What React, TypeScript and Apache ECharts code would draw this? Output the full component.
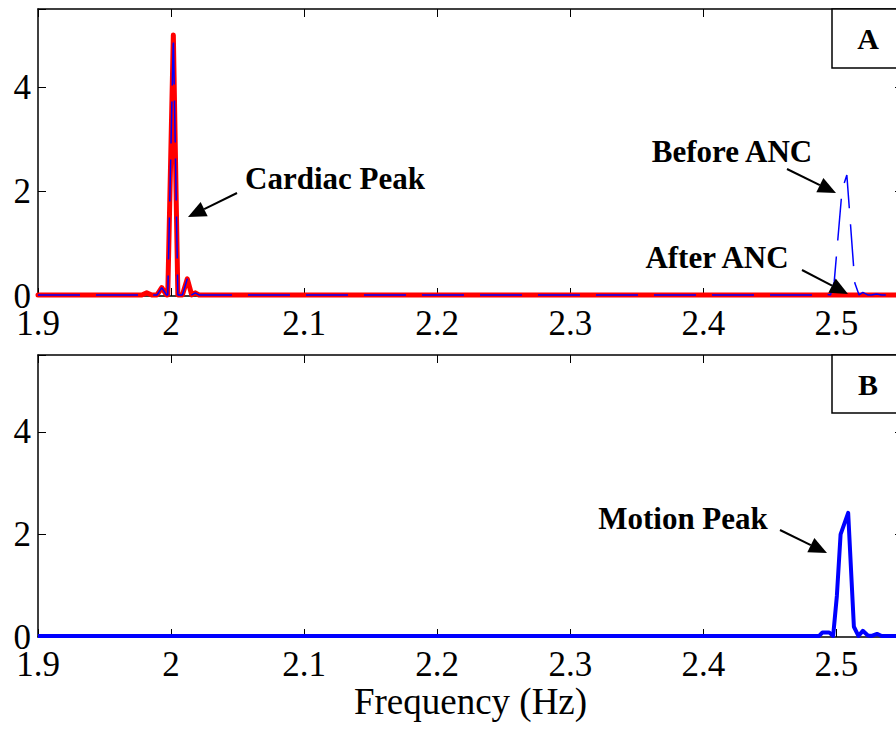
import React, { useEffect, useRef } from "react";
import * as echarts from "echarts";

// ---------- data ----------
const xTicks = [1.9, 2.0, 2.1, 2.2, 2.3, 2.4, 2.5];
const yTicks = [0, 2, 4];

// Panel A – spectrum before ANC (blue dashed)
const beforeFreq = [1.9, 1.978, 1.9817, 1.9855, 1.9895, 1.993, 1.9965, 1.9975, 2.0017, 2.0051, 2.0085, 2.0122, 2.0155, 2.0182, 2.021, 2.486, 2.4895, 2.493, 2.4955, 2.4983, 2.5042, 2.5078, 2.5138, 2.517, 2.5198, 2.5235, 2.5265, 2.5300, 2.534, 2.55];
const beforeVal = [0.02, 0.02, 0.06, 0.02, 0.02, 0.16, 0.02, 0.02, 5.0, 0.02, 0.02, 0.33, 0.02, 0.06, 0.02, 0.02, 0.05, 0.03, 0.02, 0.27, 2.03, 2.32, 0.25, 0.02, 0.07, 0.02, 0.02, 0.04, 0.02, 0.02];

// Panel A – spectrum after ANC (red solid)
const afterFreq = [1.9, 1.978, 1.9817, 1.9855, 1.9895, 1.993, 1.9965, 1.9975, 2.0017, 2.0051, 2.0085, 2.0122, 2.0155, 2.0182, 2.021, 2.55];
const afterVal = [0.02, 0.02, 0.06, 0.02, 0.02, 0.16, 0.02, 0.02, 5.0, 0.02, 0.02, 0.33, 0.02, 0.06, 0.02, 0.02];

// Panel B – motion reference spectrum (blue solid)
const motionFreq = [1.9, 2.487, 2.4895, 2.4945, 2.4975, 2.5003, 2.5031, 2.5088, 2.5131, 2.5165, 2.5198, 2.5236, 2.5265, 2.5305, 2.534, 2.55];
const motionVal = [0.02, 0.02, 0.09, 0.09, 0.02, 0.8, 2.0, 2.42, 0.2, 0.02, 0.12, 0.03, 0.02, 0.06, 0.02, 0.02];

const SERIF = "'Liberation Serif', 'Times New Roman', serif";

const pairs = (xs: number[], ys: number[]) => xs.map((x, i) => [x, ys[i]]);

function arrow(x1: number, y1: number, x2: number, y2: number) {
  const L = 18;
  const W = 8;
  const dx = x2 - x1;
  const dy = y2 - y1;
  const len = Math.sqrt(dx * dx + dy * dy);
  const ux = dx / len;
  const uy = dy / len;
  const bx = x2 - ux * L;
  const by = y2 - uy * L;
  const px = -uy;
  const py = ux;
  return [
    {
      type: "line",
      z: 100,
      shape: { x1, y1, x2: bx, y2: by },
      style: { stroke: "#000", lineWidth: 2 },
    },
    {
      type: "polygon",
      z: 100,
      shape: {
        points: [
          [x2, y2],
          [bx + px * W, by + py * W],
          [bx - px * W, by - py * W],
        ],
      },
      style: { fill: "#000" },
    },
  ];
}

function label(text: string, x: number, y: number, size = 31) {
  return {
    type: "text",
    z: 100,
    x,
    y,
    style: {
      text,
      fill: "#000",
      font: `bold ${size}px ${SERIF}`,
      align: "center",
      verticalAlign: "middle",
    },
  };
}

function panelBox(letter: string, x: number, y: number, h: number) {
  return [
    {
      type: "rect",
      z: 100,
      shape: { x, y, width: 90, height: h },
      style: { fill: "#fff", stroke: "#000", lineWidth: 1.5 },
    },
    label(letter, 868, y + h / 2, 30),
  ];
}

const xFmt = (v: number) =>
  xTicks.some((t) => Math.abs(t - v) < 1e-6) ? String(+v.toFixed(1)) : "";
const yFmt = (v: number) => (yTicks.indexOf(Math.round(v * 1000) / 1000) >= 0 ? String(v) : "");

function xAxisDef(gridIndex: number, position: "top" | "bottom", showLabel: boolean, name?: string) {
  return {
    type: "value",
    gridIndex,
    position,
    min: 1.9,
    max: 2.55,
    interval: 0.1,
    name: name || "",
    nameLocation: "middle",
    nameGap: 42,
    nameTextStyle: { fontFamily: SERIF, fontSize: 37, color: "#000" },
    axisLine: { show: true, onZero: false, lineStyle: { color: "#000", width: 1.5 } },
    axisTick: { show: true, inside: true, length: 8, lineStyle: { color: "#000", width: 1 } },
    axisLabel: {
      show: showLabel,
      margin: 10,
      fontFamily: SERIF,
      fontSize: 35,
      color: "#000",
      formatter: xFmt,
    },
    splitLine: { show: false },
  };
}

function yAxisDef(gridIndex: number, position: "left" | "right", showLabel: boolean) {
  return {
    type: "value",
    gridIndex,
    position,
    min: 0,
    max: 5.5,
    interval: 2,
    axisLine: { show: true, onZero: false, lineStyle: { color: "#000", width: 1.5 } },
    axisTick: { show: true, inside: true, length: 8, lineStyle: { color: "#000", width: 1 } },
    axisLabel: {
      show: showLabel,
      margin: 7,
      fontFamily: SERIF,
      fontSize: 35,
      color: "#000",
      formatter: yFmt,
    },
    splitLine: { show: false },
  };
}

export default function App() {
  const ref = useRef<HTMLDivElement>(null);
  useEffect(() => {
    if (!ref.current) return;
    const chart = echarts.init(ref.current, null, { renderer: "svg" });
    const option: any = {
      animation: false,
      backgroundColor: "#fff",
      grid: [
        { left: 38, top: 9, width: 865, height: 287, containLabel: false, outerBoundsMode: "none" },
        { left: 38, top: 355, width: 865, height: 282, containLabel: false, outerBoundsMode: "none" },
      ],
      xAxis: [
        xAxisDef(0, "bottom", true),
        xAxisDef(0, "top", false),
        xAxisDef(1, "bottom", true, "Frequency (Hz)"),
        xAxisDef(1, "top", false),
      ],
      yAxis: [
        yAxisDef(0, "left", true),
        yAxisDef(0, "right", false),
        yAxisDef(1, "left", true),
        yAxisDef(1, "right", false),
      ],
      series: [
        {
          name: "After ANC",
          type: "line",
          xAxisIndex: 0,
          yAxisIndex: 0,
          showSymbol: false,
          data: pairs(afterFreq, afterVal),
          lineStyle: { color: "#ff0000", width: 5, join: "round", cap: "round" },
          z: 2,
        },
        {
          name: "Before ANC",
          type: "line",
          xAxisIndex: 0,
          yAxisIndex: 0,
          showSymbol: false,
          data: pairs(beforeFreq, beforeVal),
          lineStyle: { color: "#0000ff", width: 1.5, type: [42, 16] },
          z: 3,
        },
        {
          name: "Motion",
          type: "line",
          xAxisIndex: 2,
          yAxisIndex: 2,
          showSymbol: false,
          data: pairs(motionFreq, motionVal),
          lineStyle: { color: "#0000ff", width: 4, join: "round" },
          z: 2,
        },
      ],
      graphic: [
        ...panelBox("A", 832, 9, 59),
        ...panelBox("B", 832, 355, 58),
        label("Cardiac Peak", 335, 178),
        ...arrow(237, 193, 188, 217),
        label("Before ANC", 732, 151),
        ...arrow(787, 169, 836, 193),
        label("After ANC", 717, 257),
        ...arrow(802, 270, 848, 294),
        label("Motion Peak", 683, 518),
        ...arrow(780, 530, 827, 553),
      ],
    };
    chart.setOption(option);
    return () => chart.dispose();
  }, []);
  return (
    <div
      ref={ref}
      style={{ position: "fixed", left: 0, top: 0, width: 896, height: 730 }}
    />
  );
}
